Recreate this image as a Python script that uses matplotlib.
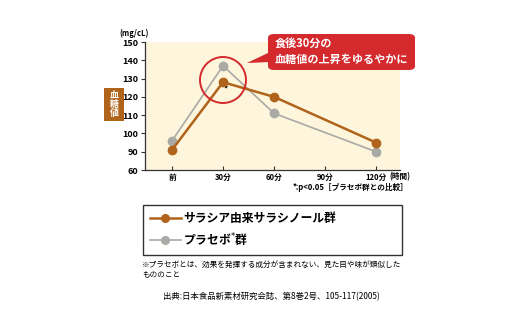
import numpy as np
import matplotlib.pyplot as plt
from matplotlib.patches import FancyBboxPatch, Polygon, Ellipse, Rectangle

plt.rcParams['font.family'] = ['Noto Sans CJK JP', 'DejaVu Sans']

# data
times = ['前', '30分', '60分', '90分', '120分']
x_idx = [0, 1, 2, 4]               # no measurement at 90分
salacia = [91, 128, 120, 95]
placebo = [96, 137, 111, 90]
yticks = [80, 90, 100, 110, 120, 130, 140, 150]   # broken axis: 80 shown as 60
ylabels = ['60', '90', '100', '110', '120', '130', '140', '150']

brown = '#b0631a'
gray = '#a9a9a6'
red = '#d42a2e'
beige = '#fdf5dc'

W, H = 520, 323
fig = plt.figure(figsize=(W/100, H/100), dpi=100)

def fx(x): return x / W
def fy(y): return 1 - y / H

ax = fig.add_axes([fx(145), fy(170), fx(400) - fx(145), fy(42) - fy(170)])
ax.set_facecolor(beige)
ax.plot(x_idx, placebo, '-o', color=gray, lw=1.2, ms=6, zorder=3)
ax.plot(x_idx, salacia, '-o', color=brown, lw=1.8, ms=6, zorder=4)
ax.set_xlim(-0.53, 4.47)
ax.set_ylim(80, 150)
ax.set_xticks(range(len(times)))
ax.set_xticklabels(times, fontsize=5.5, fontweight='bold')
ax.set_yticks(yticks)
ax.set_yticklabels(ylabels, fontsize=6.5, fontweight='bold')
ax.tick_params(axis='both', length=3, width=0.8, color='#333333', pad=2)
ax.tick_params(axis='x', direction='in', pad=2)
for s in ['top', 'right']:
    ax.spines[s].set_visible(False)
for s in ['left', 'bottom']:
    ax.spines[s].set_color('#333333')
    ax.spines[s].set_linewidth(0.9)
ax.text(1.05, 124, '*', fontsize=6, ha='center', va='center', fontweight='bold')
fig.text(fx(389), fy(176.5), '(時間)', fontsize=5.5, fontweight='bold', ha='left', va='center')

# units
fig.text(fx(134), fy(33), '(mg/cL)', fontsize=5.5, fontweight='bold', ha='center', va='center')

# y label box
fig.patches.append(Rectangle((fx(104), fy(121)), fx(20), fy(88) - fy(121), transform=fig.transFigure,
                             facecolor=brown, edgecolor='none'))
fig.text(fx(114), fy(104.5), '血\n糖\n値', fontsize=6.5, fontweight='bold', color='white',
         ha='center', va='center', linespacing=1.0)

# highlight circle
fig.patches.append(Ellipse((fx(223), fy(80)), 46/W, 46/H, transform=fig.transFigure,
                           facecolor='none', edgecolor=red, lw=1.4, zorder=5))

# callout
fig.patches.append(FancyBboxPatch((fx(268), fy(70)), fx(415) - fx(268), fy(34) - fy(70),
                                  boxstyle='round,pad=0,rounding_size=0.012', transform=fig.transFigure,
                                  facecolor=red, edgecolor='none', zorder=5))
fig.patches.append(Polygon([(fx(270), fy(52)), (fx(247), fy(63)), (fx(270), fy(62))], closed=True,
                           transform=fig.transFigure, facecolor=red, edgecolor='none', zorder=5))
fig.text(fx(275), fy(52), '食後30分の\n血糖値の上昇をゆるやかに', fontsize=8, fontweight='bold',
         color='white', ha='left', va='center', linespacing=1.2, zorder=6)

# significance note
fig.text(fx(408), fy(188), '*:p<0.05［プラセボ群との比較］', fontsize=5.5, fontweight='bold',
         ha='right', va='center')

# legend
h1, = ax.plot([], [], '-o', color=brown, lw=1.8, ms=5.5)
h2, = ax.plot([], [], '-o', color=gray, lw=1.2, ms=5.5)
leg = fig.legend([h1, h2], ['サラシア由来サラシノール群', 'プラセボ$^{*}$群'],
                 loc='upper left', bbox_to_anchor=(fx(143), fy(258), fx(402) - fx(143), fy(205) - fy(258)),
                 mode='expand', fancybox=False, edgecolor='#333333', framealpha=1,
                 prop={'size': 8.5, 'weight': 'bold'}, handlelength=2.6, handletextpad=0.2,
                 borderpad=0.6, labelspacing=0.55, borderaxespad=0)
leg.get_frame().set_linewidth(1.0)

# footnotes
fig.text(fx(142), fy(270), '※プラセボとは、効果を発揮する成分が含まれない、見た目や味が類似した\nもののこと',
         fontsize=5.5, ha='left', va='center', linespacing=1.3)
fig.text(fx(163), fy(297), '出典:日本食品新素材研究会誌、第8巻2号、105-117(2005)', fontsize=6,
         ha='left', va='center')

fig.savefig('out.png', dpi=100, facecolor='white')
